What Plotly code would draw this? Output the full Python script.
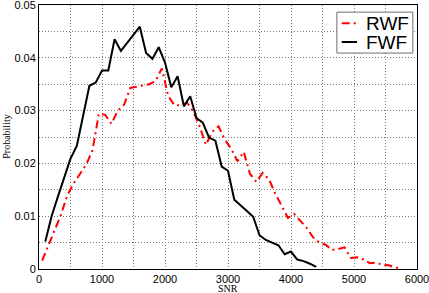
import plotly.graph_objects as go

# FWF (black solid)
fwf_x = [100, 200, 300, 400, 500, 600, 700, 800, 900, 1000, 1100, 1200, 1300, 1400, 1500,
         1600, 1700, 1800, 1900, 2000, 2100, 2200, 2300, 2400, 2500, 2600, 2700, 2800, 2900,
         3000, 3100, 3200, 3300, 3400, 3500, 3600, 3700, 3800, 3900, 4000, 4100, 4200, 4300, 4400]
fwf_y = [0.0052, 0.0100, 0.0137, 0.0173, 0.0209, 0.0233, 0.0288, 0.0347, 0.0353, 0.0376,
         0.0376, 0.0435, 0.0413, 0.0428, 0.0443, 0.0459, 0.0409, 0.0398, 0.0420, 0.0391,
         0.0344, 0.0365, 0.0308, 0.0327, 0.0286, 0.0277, 0.0249, 0.0243, 0.0194, 0.0186,
         0.0131, 0.0121, 0.0110, 0.0099, 0.0064, 0.0055, 0.0050, 0.0045, 0.0028, 0.0033,
         0.0018, 0.0015, 0.0010, 0.0004]

# RWF (red dash-dot)
rwf_x = [50, 150, 250, 350, 450, 550, 650, 750, 850, 950, 1050, 1150, 1250, 1350, 1450,
         1550, 1650, 1750, 1850, 1950, 2050, 2150, 2250, 2350, 2450, 2550, 2650, 2750, 2850,
         2950, 3050, 3150, 3250, 3350, 3450, 3550, 3650, 3750, 3850, 3950, 4050, 4150, 4250,
         4350, 4450, 4550, 4650, 4750, 4850, 4950, 5050, 5150, 5250, 5350, 5450, 5550, 5650, 5750]
rwf_y = [0.0016, 0.0045, 0.0075, 0.0103, 0.0140, 0.0162, 0.0180, 0.0198, 0.0225, 0.0294,
         0.0292, 0.0275, 0.0300, 0.0311, 0.0343, 0.0345, 0.0347, 0.0350, 0.0356, 0.0380,
         0.0328, 0.0310, 0.0310, 0.0315, 0.0298, 0.0270, 0.0235, 0.0260, 0.0270, 0.0245,
         0.0228, 0.0204, 0.0222, 0.0180, 0.0165, 0.0182, 0.0170, 0.0143, 0.0120, 0.0097,
         0.0104, 0.0090, 0.0078, 0.0060, 0.0050, 0.0046, 0.0036, 0.0038, 0.0041, 0.0021,
         0.0022, 0.0018, 0.0011, 0.0012, 0.0008, 0.0007, 0.0003, 0.0001]

series_names = ["RWF", "FWF"]
series_colors = ["#ff0000", "#000000"]
series_dash = ["8px,4px,2px,4px", "solid"]

x_ticks = [0, 1000, 2000, 3000, 4000, 5000, 6000]
y_ticks = [0, 0.01, 0.02, 0.03, 0.04, 0.05]
y_tick_labels = ["0", "0.01", "0.02", "0.03", "0.04", "0.05"]
x_title = "SNR"
y_title = "Probability"

fig = go.Figure()
fig.add_trace(go.Scatter(x=rwf_x, y=rwf_y, mode="lines", name=series_names[0], showlegend=False,
                         line=dict(color=series_colors[0], width=2, dash=series_dash[0])))
fig.add_trace(go.Scatter(x=fwf_x, y=fwf_y, mode="lines", name=series_names[1], showlegend=False,
                         line=dict(color=series_colors[1], width=2, dash=series_dash[1])))

GRIDC = "#7a7a7a"
GDASH = "1px,2px"
tickfont = dict(family="Liberation Sans, Arial", size=11, color="black")
fig.update_xaxes(range=[0, 6000], tickvals=x_ticks, ticktext=[str(v) for v in x_ticks],
                 showline=True, linecolor="black", linewidth=1, mirror=True, automargin=False,
                 zeroline=False, ticks="", tickfont=tickfont, ticklabeloverflow="allow",
                 showgrid=True, gridcolor=GRIDC, griddash=GDASH, gridwidth=1,
                 minor=dict(dtick=500, tick0=0, showgrid=True, gridcolor=GRIDC, griddash=GDASH))
fig.update_yaxes(range=[0, 0.05], tickvals=y_ticks, ticktext=y_tick_labels,
                 showline=True, linecolor="black", linewidth=1, mirror=True, automargin=False,
                 zeroline=False, ticks="", tickfont=tickfont, ticklabeloverflow="allow",
                 showgrid=True, gridcolor=GRIDC, griddash=GDASH, gridwidth=1,
                 minor=dict(dtick=0.005, tick0=0, showgrid=True, gridcolor=GRIDC, griddash=GDASH))

# Axis titles
serif = dict(family="Liberation Serif, Times New Roman", size=10, color="black")
fig.add_annotation(text=x_title, xref="paper", yref="paper", x=0.5, y=-0.073,
                   xanchor="center", yanchor="middle", showarrow=False, font=serif, borderpad=0)
fig.add_annotation(text=y_title, xref="paper", yref="paper", x=-0.088, y=0.5,
                   xanchor="center", yanchor="middle", textangle=-90, showarrow=False, font=serif,
                   borderpad=0)

# Legend box (MATLAB style)
fig.add_shape(type="rect", xref="paper", yref="paper", x0=0.788, x1=0.989, y0=0.818, y1=0.973,
              line=dict(color="#6e6e6e", width=1), fillcolor="white", layer="above")
leg_y = [0.9307, 0.8598]
for name, color, dash, ly in zip(series_names, series_colors, series_dash, leg_y):
    fig.add_shape(type="line", xref="paper", yref="paper", x0=0.8008, x1=0.8413, y0=ly, y1=ly,
                  line=dict(color=color, width=2, dash=dash), layer="above")
    fig.add_annotation(text=name, xref="paper", yref="paper", x=0.8600, y=ly,
                       xanchor="left", yanchor="middle", showarrow=False,
                       font=dict(family="Liberation Sans, Arial", size=19, color="black"))

fig.update_layout(
    width=429, height=293,
    margin=dict(l=39, r=12, t=5, b=24, autoexpand=False),
    paper_bgcolor="white", plot_bgcolor="white",
    showlegend=False,
)

fig.write_html("out.html", config={"displayModeBar": False},
               post_script="document.body.style.margin='0px';document.body.style.overflow='hidden';")
